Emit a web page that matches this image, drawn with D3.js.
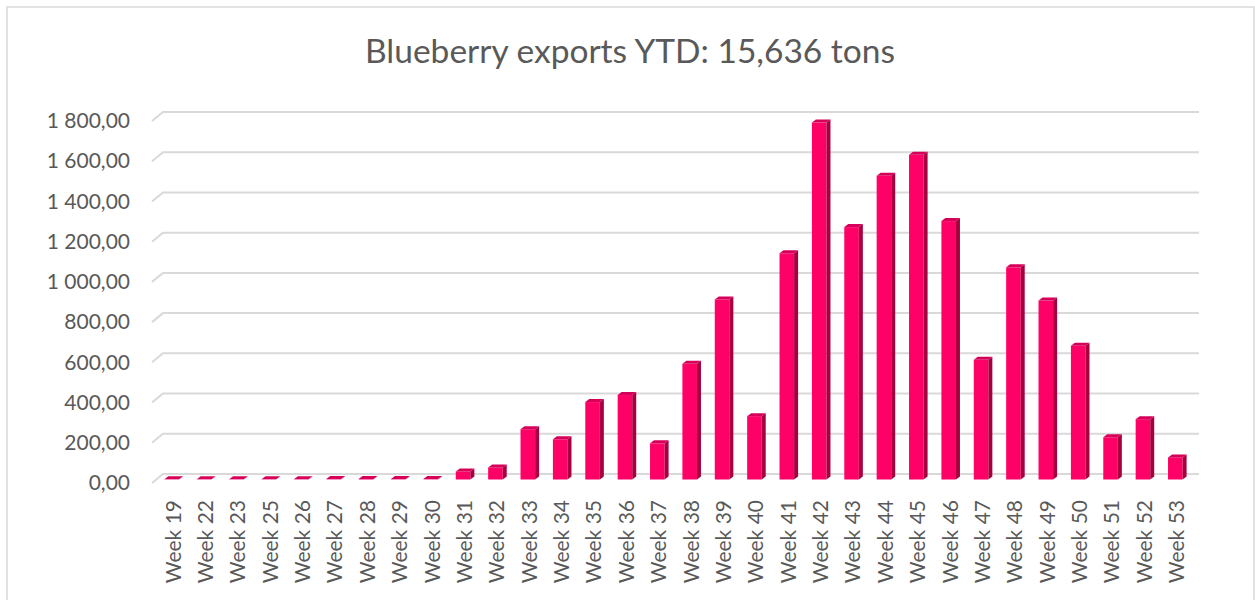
<!DOCTYPE html>
<html>
<head>
<meta charset="utf-8">
<script src="https://cdn.jsdelivr.net/npm/d3@7"></script>
<style>
	body { margin: 0; background: #fff; }
	svg text { font-family: Lato, "Open Sans", sans-serif; fill: #595959; }
</style>
</head>
<body>
<svg id="chart" width="1255" height="600"></svg>
<script>
var title = 'Blueberry exports YTD: 15,636 tons'

var weeks = ['Week 19', 'Week 22', 'Week 23', 'Week 25', 'Week 26', 'Week 27', 'Week 28', 'Week 29',
	'Week 30', 'Week 31', 'Week 32', 'Week 33', 'Week 34', 'Week 35', 'Week 36', 'Week 37',
	'Week 38', 'Week 39', 'Week 40', 'Week 41', 'Week 42', 'Week 43', 'Week 44', 'Week 45',
	'Week 46', 'Week 47', 'Week 48', 'Week 49', 'Week 50', 'Week 51', 'Week 52', 'Week 53']

var tons = [1, 1, 1, 1, 1, 2, 3, 2,
	2, 40, 60, 250, 200, 385, 420, 180,
	575, 895, 315, 1125, 1775, 1255, 1510, 1615,
	1285, 595, 1055, 890, 665, 210, 300, 110]

var yTicks = [0, 200, 400, 600, 800, 1000, 1200, 1400, 1600, 1800]

var colors = {front: '#ff0066', side: '#a8003f', top: '#d6005a', grid: '#d9d9d9'}

var svg = d3.select('#chart')

// frame
svg.append('rect')
	.attr('x', 7).attr('y', 7)
	.attr('width', 1247).attr('height', 640)
	.attr('fill', 'none')
	.attr('stroke', colors.grid)
	.attr('stroke-width', 1.5)

svg.append('text')
	.attr('x', 630).attr('y', 63)
	.attr('text-anchor', 'middle')
	.attr('font-size', 33.5)
	.text(title)

// front plane scales, back wall is shifted by (wall.dx, wall.dy)
var x = d3.scaleBand().domain(weeks).range([152, 1188]).paddingInner(0.55).paddingOuter(0.275)
var y = d3.scaleLinear().domain([0, 1800]).range([483, 121])

var wall = {dx: 11, dy: -9},
	shift = {dx: 3.5, dy: -3.5},
	depth = {dx: 4, dy: -3}

svg.append('g').selectAll('path')
	.data(yTicks)
	.enter()
	.append('path')
	.attr('d', function(t) {
		var yy = y(t)
		return 'M152,' + yy + 'L' + (152 + wall.dx) + ',' + (yy + wall.dy) + 'L' + (1188 + wall.dx) + ',' + (yy + wall.dy)
	})
	.attr('fill', 'none')
	.attr('stroke', colors.grid)
	.attr('stroke-width', 2)

var fmt = d3.formatLocale({decimal: ',', thousands: ' ', grouping: [3], currency: ['', '']}).format(',.2f')

var yAxis = svg.append('g')
	.attr('transform', 'translate(130,0)')
	.call(d3.axisLeft(y).tickValues(yTicks).tickFormat(fmt).tickSize(0).tickPadding(0))
yAxis.select('.domain').remove()
yAxis.selectAll('text')
	.attr('font-size', 21)
	.attr('font-family', null)
	.attr('fill', null)

var xAxis = svg.append('g')
	.attr('transform', 'translate(5,500)')
	.call(d3.axisBottom(x).tickSize(0))
xAxis.select('.domain').remove()
xAxis.selectAll('text')
	.attr('transform', 'rotate(-90)')
	.attr('x', 0).attr('y', 0)
	.attr('dy', '0.35em')
	.attr('text-anchor', 'end')
	.attr('font-size', 21)
	.attr('font-family', null)
	.attr('fill', null)

var bw = x.bandwidth()

var bars = svg.append('g').selectAll('.bar')
	.data(weeks.map(function(w, i) {return {week: w, v: tons[i]}}))
	.enter()
	.append('g')
	.attr('class', 'bar')

bars.each(function(d) {
	var g = d3.select(this),
		xl = x(d.week) + shift.dx,
		xr = xl + bw,
		yt = y(d.v) + shift.dy,
		yb = y(0) + shift.dy
	g.append('rect')
		.attr('x', xl).attr('y', yt)
		.attr('width', bw).attr('height', yb - yt)
		.attr('fill', colors.front)
	g.append('path')
		.attr('d', 'M' + xr + ',' + yt + 'L' + (xr + depth.dx) + ',' + (yt + depth.dy) +
			'L' + (xr + depth.dx) + ',' + (yb + depth.dy) + 'L' + xr + ',' + yb + 'Z')
		.attr('fill', colors.side)
	g.append('path')
		.attr('d', 'M' + xl + ',' + yt + 'L' + (xl + depth.dx) + ',' + (yt + depth.dy) +
			'L' + (xr + depth.dx) + ',' + (yt + depth.dy) + 'L' + xr + ',' + yt + 'Z')
		.attr('fill', colors.top)
})
</script>
</body>
</html>
